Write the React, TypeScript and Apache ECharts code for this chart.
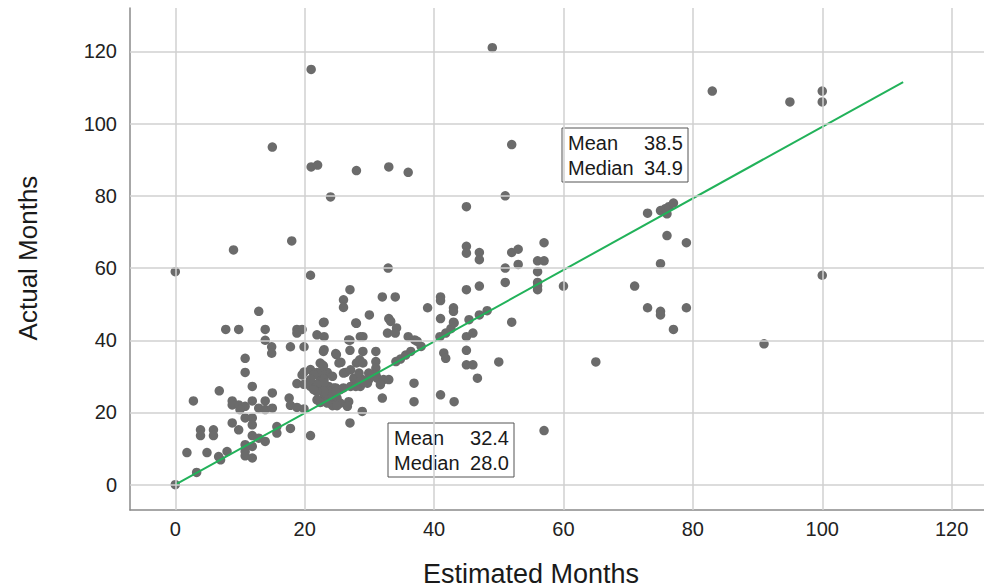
import React, { useEffect, useRef } from "react";
import * as echarts from "echarts";

const xTicks = [0, 20, 40, 60, 80, 100, 120];
const yTicks = [0, 20, 40, 60, 80, 100, 120];
const xTitle = "Estimated Months";
const yTitle = "Actual Months";

// [estimated, actual]
const observations: [number, number][] = [
  [49, 121], [21, 115], [15, 93.5], [21, 88], [22, 88.5], [28, 87], [33, 88], [36, 86.5], [24, 79.7], [52, 94.2],
  [83, 109], [95, 106], [100, 109], [100, 106], [100, 58], [91, 39], [65, 34], [57, 15], [0, 59], [9, 65],
  [18, 67.5], [0, 0], [45, 77], [51, 80],
  [73, 75.2], [75, 75.9], [75.7, 76.4], [76.3, 77], [77, 78], [76, 75], [76, 69], [79, 67], [75, 61.2], [71, 55],
  [73, 49], [75, 48], [75, 47], [79, 49], [77, 43], [60, 55],
  [52, 64.3], [53, 65.2], [57, 67], [51, 60], [53, 61], [56, 62], [57, 62], [56, 59], [51, 56], [56, 56],
  [56, 55], [56, 54], [52, 45],
  [45, 66], [45, 64.1], [47, 64.3], [47, 62.3], [45, 54], [47, 55], [39, 49], [41, 52], [41, 51], [43, 49],
  [43, 48], [41, 46], [43, 45], [45.4, 45.7], [47, 47], [48.2, 48.2], [40.9, 41], [41.8, 42], [42.6, 43.2], [43.1, 44.8],
  [45, 41], [46, 42], [41.5, 36.5], [41.8, 35], [45, 37.2], [45, 33.2], [46, 33.2], [46.7, 29.5], [50, 34], [41, 24.9],
  [43.1, 23], [38, 38.3],
  [32.9, 60], [27, 54], [26, 51.2], [26, 49.1], [32, 52], [34, 52], [30, 47], [23, 45], [28, 44.7], [33, 46],
  [33.3, 45.2], [34.2, 43.4], [32.8, 42], [34, 42], [36, 41], [37, 40.1], [37.4, 39.7], [29, 41], [27, 40], [27, 37.2],
  [29, 36.9], [31, 36.9], [28.5, 34.6], [28, 33.7], [29, 33.7], [31, 34.1], [31, 32.3], [31, 30.4], [34.1, 34.1], [34.8, 34.8],
  [35.6, 35.9], [36.4, 36.9], [36.9, 28.1], [32, 24], [36.9, 23], [31.2, 29.5], [32.2, 29.1], [33, 29.1], [31.7, 27.7],
  [22.9, 44.9], [27.9, 44.8], [24.8, 36.3], [22.4, 33.7], [25.3, 33.7], [26.3, 31.1], [23.5, 31.1], [24.3, 30], [22.4, 29.1], [22.4, 27.2],
  [23.5, 26.8], [24.8, 26.8], [25.5, 26.3], [27.6, 29.5], [28.9, 29.1], [27.6, 27.7], [28.6, 27.2], [29.9, 30.9], [29.9, 29.1], [26, 30.9],
  [27.1, 31.8], [28.4, 30.9], [28.4, 28.1], [29.7, 28.1], [28.6, 28.6], [24, 24], [25, 24], [24.8, 22.1], [25.5, 22.6], [26.8, 23],
  [26.6, 21.7], [28.9, 20.3], [27, 17.1], [23, 24.4], [22.7, 23], [26, 26.8], [27.1, 27.2], [27.9, 27.2], [23.7, 27.2], [24.5, 26.8],
  [24, 25.8], [23, 26.3], [24.8, 25.8], [24.3, 21.9], [25, 21.9], [23.5, 22.6], [22.4, 22.8], [24.9, 36], [22.7, 33.2], [25.6, 33.9],
  [22.7, 30.9], [23, 29.1], [23, 28.1], [23, 25.8], [26.8, 40.1], [28.6, 41],
  [18.8, 43], [19.6, 43], [18.8, 42], [21.9, 41.5], [23, 41], [23, 37.4], [22.9, 36.9], [13.9, 43], [7.8, 43], [9.8, 43],
  [13.9, 40], [14.9, 38.2], [14.9, 36.4], [17.8, 38.2], [19.9, 38.2], [20.9, 58], [12.9, 48], [10.8, 35], [10.8, 31.1], [19.9, 31.2],
  [20.9, 31.9], [21.9, 31.1], [22.9, 32.9], [19.6, 30.4], [21.4, 30.4], [18.8, 28], [19.9, 27.8], [20.9, 27.2], [21.9, 27.8], [21.9, 25.8],
  [21.4, 26.3], [20.9, 29.1], [11.9, 27.2], [15, 25.4], [6.8, 26], [2.8, 23.2], [8.8, 23.2], [8.8, 22.1], [9.8, 22.1], [10.8, 21.7],
  [11.9, 23.2], [13.9, 23.2], [12.9, 21.2], [13.9, 20.8], [15, 21.2], [17.6, 24], [17.8, 22], [18.8, 21.4], [19.9, 21], [21.9, 23.5],
  [10, 20.8], [10.8, 18.5], [11.9, 18.5], [11.9, 16.6], [8.8, 17.1], [9.8, 15.2], [15.7, 16.1], [15.7, 14.3], [17.8, 15.6], [20.9, 13.6],
  [3.9, 15.2], [3.9, 13.6], [5.9, 15.2], [5.9, 13.6], [11.9, 13.6], [12.9, 12.9], [13.9, 12], [10.8, 11.1], [11.9, 10.6], [10.8, 9.2],
  [10.8, 8], [11.9, 7.4], [1.8, 8.9], [4.9, 8.9], [6.7, 7.8], [8, 9.2], [7, 6.9], [3.3, 3.4],
];

const fitLine: [number, number][] = [
  [0, 0],
  [112.5, 111.5],
];

const actualStats = { label1: "Mean", value1: "38.5", label2: "Median", value2: "34.9" };
const estimatedStats = { label1: "Mean", value1: "32.4", label2: "Median", value2: "28.0" };

const FONT = "'Liberation Sans', Arial, Helvetica, sans-serif";

function statBox(x: number, y: number, s: typeof actualStats) {
  const w = 126;
  const h = 54;
  const txt = (t: string, tx: number, ty: number, align: string) => ({
    type: "text",
    x: tx,
    y: ty,
    style: {
      text: t,
      font: `20px ${FONT}`,
      fill: "#1a1a1a",
      align,
      verticalAlign: "middle",
    },
  });
  return {
    type: "group",
    x,
    y,
    children: [
      { type: "rect", shape: { x: 0, y: 0, width: w, height: h }, style: { fill: "#fff", stroke: "#555", lineWidth: 1 } },
      txt(s.label1, 6, 15, "left"),
      txt(s.value1, w - 5, 15, "right"),
      txt(s.label2, 6, 40, "left"),
      txt(s.value2, w - 5, 40, "right"),
    ],
  };
}

export default function App() {
  const ref = useRef<HTMLDivElement>(null);
  useEffect(() => {
    if (!ref.current) return;
    const chart = echarts.init(ref.current, undefined, { renderer: "svg" });
    const gridStyle = { color: "#d0d0d0", width: 1.5, type: "solid" };
    chart.setOption({
      animation: false,
      backgroundColor: "#fff",
      grid: { left: 130, right: 0, top: 8, bottom: 78, containLabel: false },
      xAxis: {
        type: "value",
        min: -7,
        max: 125,
        splitLine: { show: false },
        axisTick: { show: false },
        axisLine: { show: true, onZero: false, lineStyle: { color: "#8a8a8a", width: 1.5 } },
        axisLabel: {
          customValues: xTicks,
          color: "#222",
          fontSize: 20,
          fontFamily: FONT,
          margin: 9,
        },
      },
      yAxis: {
        type: "value",
        min: -7,
        max: 132,
        splitLine: { show: false },
        axisTick: { show: false },
        axisLine: { show: true, onZero: false, lineStyle: { color: "#8a8a8a", width: 1.5 } },
        axisLabel: {
          customValues: yTicks,
          color: "#222",
          fontSize: 20,
          fontFamily: FONT,
          margin: 13,
        },
      },
      series: [
        {
          type: "line",
          data: [],
          z: 0,
          silent: true,
          markLine: {
            silent: true,
            symbol: "none",
            label: { show: false },
            lineStyle: gridStyle,
            data: [
              ...xTicks.map((v) => ({ xAxis: v })),
              ...yTicks.map((v) => ({ yAxis: v })),
            ],
          },
        },
        {
          type: "scatter",
          data: observations,
          symbolSize: 9.5,
          z: 2,
          itemStyle: { color: "#6b6b6b", opacity: 1 },
        },
        {
          type: "line",
          data: fitLine,
          z: 3,
          symbol: "none",
          lineStyle: { color: "#22b25a", width: 2 },
        },
      ],
      graphic: [
        statBox(562, 128, actualStats),
        statBox(388, 423, estimatedStats),
        {
          type: "text",
          x: 531,
          y: 574,
          style: { text: xTitle, font: `27px ${FONT}`, fill: "#1a1a1a", align: "center", verticalAlign: "middle" },
        },
        {
          type: "text",
          x: 28,
          y: 258,
          rotation: Math.PI / 2,
          style: { text: yTitle, font: `26px ${FONT}`, fill: "#1a1a1a", align: "center", verticalAlign: "middle" },
        },
      ],
    });
    return () => chart.dispose();
  }, []);
  return (
    <div
      ref={ref}
      style={{ position: "fixed", left: 0, top: 0, width: 984, height: 588, background: "#fff" }}
    />
  );
}
